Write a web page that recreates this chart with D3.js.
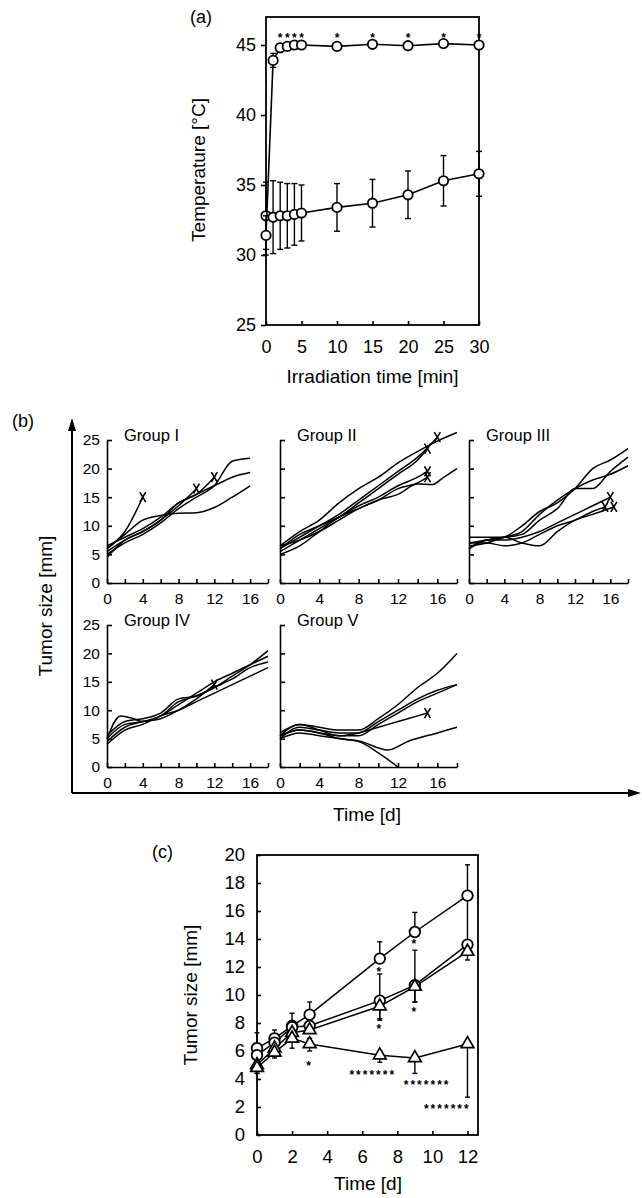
<!DOCTYPE html>
<html>
<head>
<meta charset="utf-8">
<script src="https://cdn.jsdelivr.net/npm/d3@7"></script>
<style>
  body { margin: 0; background: #fff; }
  svg { font-family: "Liberation Sans", Arial, sans-serif; }
  .axis path, .axis line { stroke: #000; stroke-width: 1.6; }
  .axis text { fill: #000; }
</style>
</head>
<body>
<svg id="fig" width="642" height="1198"></svg>
<script>
// ---- (a) temperature during irradiation ----
const irrTime = [0, 1, 2, 3, 4, 5, 10, 15, 20, 25, 30];
const tempHeated = [31.4, 43.9, 44.8, 44.9, 45.0, 45.0, 44.9, 45.05, 44.95, 45.1, 45.0];
const tempHeatedSd = [1.4, 0.5, 0.2, 0.1, 0.1, 0.1, 0.1, 0.1, 0.1, 0.1, 0.1];
const tempControl = [32.8, 32.7, 32.8, 32.8, 32.9, 33.0, 33.4, 33.7, 34.3, 35.3, 35.8];
const tempControlSd = [2.4, 2.6, 2.4, 2.3, 2.2, 2.0, 1.7, 1.7, 1.7, 1.8, 1.6];
const tempStarTimes = [2, 3, 4, 5, 10, 15, 20, 25, 30];
const tempTicks = [25, 30, 35, 40, 45];
const irrTicks = [0, 5, 10, 15, 20, 25, 30];

// ---- (b) individual tumour growth curves, [day, mm]; dead = ends with x ----
const groupI = [
  { pts: [[0, 6], [2, 9], [4, 15]], dead: true },
  { pts: [[0, 5.5], [2, 7.5], [4, 9], [6, 11], [8, 13.5], [10, 16.5]], dead: true },
  { pts: [[0, 6.5], [2, 8], [4, 9.5], [6, 11.5], [8, 14], [10, 15.5], [12, 18.5]], dead: true },
  { pts: [[0, 5], [2, 7], [4, 8.5], [6, 10.5], [8, 13], [10, 15], [12, 17], [14, 21.3], [16, 21.8]], dead: false },
  { pts: [[0, 6], [2, 8.5], [4, 11], [6, 11.8], [8, 12.2], [10, 12.3], [12, 13.2], [14, 15], [16, 17]], dead: false },
  { pts: [[0, 4.5], [2, 7.5], [4, 9], [6, 11], [8, 14], [10, 15.5], [12, 17], [14, 18.5], [16, 19.3]], dead: false }
];
const groupII = [
  { pts: [[0, 6.5], [2, 9], [4, 11], [6, 14], [8, 16.5], [10, 18.5], [12, 21], [14, 23], [16, 24.8], [18, 26.3]], dead: false },
  { pts: [[0, 6], [2, 8], [4, 10], [6, 12], [8, 14.5], [10, 17], [12, 19.5], [14, 22], [16, 25.5]], dead: true },
  { pts: [[0, 5.5], [2, 7.5], [4, 9.5], [6, 11.5], [8, 14], [10, 16.5], [12, 19], [14, 21.5], [15, 23.5]], dead: true },
  { pts: [[0, 6], [2, 8.5], [4, 10], [6, 11.5], [8, 13.5], [10, 15], [12, 17], [14, 18.5], [15, 19.5]], dead: true },
  { pts: [[0, 6.5], [2, 7.5], [4, 9], [6, 11], [8, 13], [10, 14.5], [12, 16.5], [14, 17.5], [15, 18.5]], dead: true },
  { pts: [[0, 5], [2, 6.5], [4, 9], [6, 11.5], [8, 13], [10, 14.5], [12, 15.5], [14, 17.3], [15.5, 17.2], [16.5, 18.3], [18, 20]], dead: false }
];
const groupIII = [
  { pts: [[0, 7], [2, 7.5], [4, 8], [6, 10], [8, 12.5], [10, 14], [12, 16.5], [14, 20], [16, 21.5], [18, 23.5]], dead: false },
  { pts: [[0, 6.5], [2, 7], [4, 8], [6, 9], [8, 12], [10, 14.5], [12, 16.5], [14, 18], [16, 19], [18, 20.5]], dead: false },
  { pts: [[0, 8], [2, 8], [4, 8], [6, 8.5], [8, 11], [10, 13], [12, 16.5], [14, 16.5], [16, 19.5], [18, 22]], dead: false },
  { pts: [[0, 6], [2, 7.5], [4, 7.5], [6, 8], [8, 9], [10, 10.5], [12, 12], [14, 13.5], [16, 15]], dead: true },
  { pts: [[0, 7], [2, 7], [4, 6.5], [6, 7], [8, 8.5], [10, 10], [12, 11], [14, 12.5], [15.4, 13.3]], dead: true },
  { pts: [[0, 6], [2, 7.5], [4, 8], [6, 7], [8, 6.5], [10, 9], [12, 11], [14, 12], [16.4, 13.3]], dead: true }
];
const groupIV = [
  { pts: [[0, 5], [1.5, 9], [3, 8.5], [4, 8], [6, 9], [8, 11.5], [10, 12.5], [12, 14], [14, 16], [16, 18], [18, 20.5]], dead: false },
  { pts: [[0, 4.5], [2, 7], [4, 8], [6, 8.5], [8, 10], [10, 12], [12, 14.5]], dead: true },
  { pts: [[0, 5], [2, 7.5], [4, 8], [6, 9], [8, 11], [10, 13], [12, 15], [14, 16.5], [16, 18], [18, 19.5]], dead: false },
  { pts: [[0, 5.5], [2, 8], [4, 8.5], [6, 9.5], [8, 12], [10, 12.5], [12, 14], [14, 15.5], [16, 17.5], [18, 18.5]], dead: false },
  { pts: [[0, 4], [2, 6.5], [4, 7.5], [6, 9], [8, 10], [10, 11.5], [12, 13], [14, 14.5], [16, 16], [18, 17.5]], dead: false }
];
const groupV = [
  { pts: [[0, 5.5], [2, 7.5], [4, 7], [6, 6.5], [8, 6.5], [10, 8.5], [12, 11], [14, 14], [16, 16.5], [18, 20]], dead: false },
  { pts: [[0, 5], [2, 7], [4, 6.5], [6, 6], [8, 6], [10, 8], [12, 10], [14, 12], [16, 13.5], [18, 14.5]], dead: false },
  { pts: [[0, 6], [2, 7.5], [4, 6.5], [6, 5.5], [8, 5.5], [10, 7.5], [12, 9.5], [14, 11.5], [16, 13], [18, 14.5]], dead: false },
  { pts: [[0, 5.5], [2, 6.5], [4, 6], [6, 5.5], [8, 6], [10, 7], [12, 8], [14, 9], [15, 9.5]], dead: true },
  { pts: [[0, 5], [2, 6], [4, 5.5], [6, 5], [8, 4.6], [11, 3], [13, 4.5], [16, 6], [18, 7]], dead: false },
  { pts: [[0, 5.5], [2, 6.5], [4, 6], [6, 5], [8, 4.5], [10, 2.5], [12, 0]], dead: false }
];
const sizeTicksB = [0, 5, 10, 15, 20, 25];
const dayTicksB = [0, 2, 4, 6, 8, 10, 12, 14, 16, 18];

// ---- (c) mean tumour size ----
const daysC = [0, 1, 2, 3, 7, 9, 12];
const meanS1 = [6.2, 6.9, 7.8, 8.6, 12.6, 14.5, 17.1];
const meanS2 = [5.7, 6.6, 7.7, 7.8, 9.6, 10.7, 13.6];
const meanS3 = [5.0, 6.2, 7.3, 7.5, 9.2, 10.6, 13.1];
const meanS4 = [4.8, 5.9, 6.9, 6.5, 5.7, 5.5, 6.5];
const upS1 = [1.1, 0.6, 0.9, 0.9, 1.2, 1.4, 2.2];
const upS2 = [0, 0, 0, 0, 1.9, 2.5, 3.4];
const downS2 = [0, 0, 0, 0, 1.3, 1.2, 0];
const downS3 = [0.6, 0.5, 0.5, 0, 1.0, 1.1, 0.6];
const upS4 = [0, 0.4, 0.2, 0.4, 0.3, 0, 0];
const downS4 = [0.4, 0.4, 0.7, 0.5, 0.5, 1.1, 3.8];
const starsC = [[3, 5.1, "*"], [7, 11.8, "*"], [7, 7.7, "*"], [9, 13.8, "*"], [9, 8.9, "*"],
                [6.6, 4.4, "*******"], [9.7, 3.7, "*******"], [10.85, 2.0, "*******"]];
const sizeTicksC = [0, 2, 4, 6, 8, 10, 12, 14, 16, 18, 20];
const dayTicksC = [0, 2, 4, 6, 8, 10, 12];

const svg = d3.select("#fig");

function label(g, x, y, s, size, anchor, rot) {
  const t = g.append("text").attr("font-size", size).attr("text-anchor", anchor || "start").text(s);
  if (rot) t.attr("transform", `translate(${x},${y}) rotate(${rot})`);
  else t.attr("x", x).attr("y", y);
  return t;
}

function errBar(g, x, yTop, yBot, cap) {
  g.append("line").attr("x1", x).attr("x2", x).attr("y1", yTop).attr("y2", yBot)
    .attr("stroke", "#000").attr("stroke-width", 1.4);
  [yTop, yBot].forEach(y => {
    g.append("line").attr("x1", x - cap).attr("x2", x + cap).attr("y1", y).attr("y2", y)
      .attr("stroke", "#000").attr("stroke-width", 1.4);
  });
}

/* ---------------- panel (a) ---------------- */
const ga = svg.append("g");
const ax = d3.scaleLinear().domain([0, 30]).range([266, 479]);
const ay = d3.scaleLinear().domain([25, 47]).range([325, 17]);

ga.append("rect")
  .attr("x", ax(0)).attr("y", ay(47))
  .attr("width", ax(30) - ax(0)).attr("height", ay(25) - ay(47))
  .attr("fill", "none").attr("stroke", "#000").attr("stroke-width", 1.8);

ga.append("g").attr("class", "axis")
  .attr("transform", `translate(${ax(0)},0)`)
  .call(d3.axisLeft(ay).tickValues(tempTicks).tickSize(5).tickPadding(5))
  .call(g => g.select(".domain").remove())
  .selectAll("text").attr("font-size", 18).attr("font-family", null);

ga.append("g").attr("class", "axis")
  .attr("transform", `translate(0,${ay(25)})`)
  .call(d3.axisBottom(ax).tickValues(irrTicks).tickSizeInner(-4).tickSizeOuter(0).tickPadding(15))
  .call(g => g.select(".domain").remove())
  .selectAll("text").attr("font-size", 18).attr("font-family", null);

const lineA = d3.line().x(d => ax(d[0])).y(d => ay(d[1]));
[[tempControl, tempControlSd], [tempHeated, tempHeatedSd]].forEach(([vals, sd]) => {
  irrTime.forEach((t, i) => errBar(ga, ax(t), ay(vals[i] + sd[i]), ay(vals[i] - sd[i]), 3));
  ga.append("path").datum(irrTime.map((t, i) => [t, vals[i]]))
    .attr("d", lineA).attr("fill", "none").attr("stroke", "#000").attr("stroke-width", 1.6);
  ga.selectAll(null).data(irrTime.map((t, i) => [t, vals[i]])).join("circle")
    .attr("cx", d => ax(d[0])).attr("cy", d => ay(d[1])).attr("r", 4.7)
    .attr("fill", "#fff").attr("stroke", "#000").attr("stroke-width", 1.8);
});
ga.selectAll(null).data(tempStarTimes).join("text")
  .attr("x", d => ax(d)).attr("y", ay(45.75) + 7).attr("text-anchor", "middle")
  .attr("font-size", 12).attr("font-weight", "bold").text("*");

label(ga, 190, 23, "(a)", 18);
label(ga, ax(15), 383, "Irradiation time [min]", 19, "middle");
label(ga, 205, 170, "Temperature [°C]", 19, "middle", -90);

/* ---------------- panel (b) ---------------- */
const gb = svg.append("g");
const panels = [
  { name: "Group I", data: groupI, x0: 107, x1: 268, y0: 583, y1: 440, yLab: true },
  { name: "Group II", data: groupII, x0: 280, x1: 457, y0: 583, y1: 440, yLab: false },
  { name: "Group III", data: groupIII, x0: 469, x1: 628, y0: 583, y1: 440, yLab: false },
  { name: "Group IV", data: groupIV, x0: 107, x1: 268, y0: 767, y1: 625, yLab: true },
  { name: "Group V", data: groupV, x0: 280, x1: 457, y0: 767, y1: 625, yLab: false }
];

panels.forEach(p => {
  const g = gb.append("g");
  const x = d3.scaleLinear().domain([0, 18]).range([p.x0, p.x1]);
  const y = d3.scaleLinear().domain([0, 25]).range([p.y0, p.y1]);

  g.append("g").attr("class", "axis")
    .attr("transform", `translate(${x(0)},0)`)
    .call(d3.axisLeft(y).tickValues(sizeTicksB).tickSizeInner(-5).tickSizeOuter(0).tickPadding(7)
      .tickFormat(d => p.yLab ? d : ""))
    .selectAll("text").attr("font-size", 15.5).attr("font-family", null);

  g.append("g").attr("class", "axis")
    .attr("transform", `translate(0,${y(0)})`)
    .call(d3.axisBottom(x).tickValues(dayTicksB).tickSizeInner(-4).tickSizeOuter(0).tickPadding(10)
      .tickFormat(d => d % 4 === 0 ? d : ""))
    .selectAll("text").attr("font-size", 15.5).attr("font-family", null);

  const line = d3.line().x(d => x(d[0])).y(d => y(d[1])).curve(d3.curveMonotoneX);
  p.data.forEach(m => {
    g.append("path").attr("d", line(m.pts)).attr("fill", "none")
      .attr("stroke", "#000").attr("stroke-width", 1.5);
    if (m.dead) {
      const e = m.pts[m.pts.length - 1];
      const ex = x(e[0]), ey = y(e[1]);
      g.append("path")
        .attr("d", `M${ex - 3},${ey - 5}L${ex + 3},${ey + 5}M${ex + 3},${ey - 5}L${ex - 3},${ey + 5}`)
        .attr("stroke", "#000").attr("stroke-width", 1.6);
    }
  });

  label(g, x(0) + 17, y(25) + 1, p.name, 16.5);
});

// outer arrows of panel (b)
gb.append("line").attr("x1", 72).attr("x2", 72).attr("y1", 793).attr("y2", 428)
  .attr("stroke", "#000").attr("stroke-width", 2);
gb.append("path").attr("d", "M72,418L68,431L76,431Z").attr("fill", "#000");
gb.append("line").attr("x1", 72).attr("x2", 630).attr("y1", 793).attr("y2", 793)
  .attr("stroke", "#000").attr("stroke-width", 2);
gb.append("path").attr("d", "M641,793L628,789L628,797Z").attr("fill", "#000");

label(gb, 12, 427, "(b)", 18);
label(gb, 367, 821, "Time [d]", 19, "middle");
label(gb, 52, 606, "Tumor size [mm]", 19, "middle", -90);

/* ---------------- panel (c) ---------------- */
const gc = svg.append("g");
const cx = d3.scaleLinear().domain([0, 12.6]).range([257, 478]);
const cy = d3.scaleLinear().domain([0, 20]).range([1135, 855]);

gc.append("rect")
  .attr("x", cx(0)).attr("y", cy(20))
  .attr("width", cx(12.6) - cx(0)).attr("height", cy(0) - cy(20))
  .attr("fill", "none").attr("stroke", "#000").attr("stroke-width", 1.8);

gc.append("g").attr("class", "axis")
  .attr("transform", `translate(${cx(0)},0)`)
  .call(d3.axisLeft(cy).tickValues(sizeTicksC).tickSizeInner(-4).tickSizeOuter(0).tickPadding(12))
  .call(g => g.select(".domain").remove())
  .selectAll("text").attr("font-size", 18.5).attr("font-family", null);

gc.append("g").attr("class", "axis")
  .attr("transform", `translate(0,${cy(0)})`)
  .call(d3.axisBottom(cx).tickValues(dayTicksC).tickSizeInner(-4).tickSizeOuter(0).tickPadding(15))
  .call(g => g.select(".domain").remove())
  .selectAll("text").attr("font-size", 18.5).attr("font-family", null);

const seriesC = [
  { vals: meanS1, up: upS1, down: null, shape: "circle" },
  { vals: meanS2, up: upS2, down: downS2, shape: "circle" },
  { vals: meanS3, up: null, down: downS3, shape: "triangle" },
  { vals: meanS4, up: upS4, down: downS4, shape: "triangle" }
];
const lineC = d3.line().x(d => cx(d[0])).y(d => cy(d[1]));
seriesC.forEach(s => {
  daysC.forEach((d, i) => {
    const u = s.up ? s.up[i] : 0, dn = s.down ? s.down[i] : 0;
    if (u > 0) errBar(gc, cx(d), cy(s.vals[i] + u), cy(s.vals[i]), 2.5);
    if (dn > 0) errBar(gc, cx(d), cy(s.vals[i]), cy(s.vals[i] - dn), 2.5);
  });
  gc.append("path").datum(daysC.map((d, i) => [d, s.vals[i]]))
    .attr("d", lineC).attr("fill", "none").attr("stroke", "#000").attr("stroke-width", 1.5);
});
seriesC.forEach(s => {
  const pts = daysC.map((d, i) => [d, s.vals[i]]);
  if (s.shape === "circle") {
    gc.selectAll(null).data(pts).join("circle")
      .attr("cx", d => cx(d[0])).attr("cy", d => cy(d[1])).attr("r", 5.3)
      .attr("fill", "#fff").attr("stroke", "#000").attr("stroke-width", 1.8);
  } else {
    gc.selectAll(null).data(pts).join("path")
      .attr("d", d3.symbol(d3.symbolTriangle, 70))
      .attr("transform", d => `translate(${cx(d[0])},${cy(d[1])})`)
      .attr("fill", "#fff").attr("stroke", "#000").attr("stroke-width", 1.7);
  }
});
gc.selectAll(null).data(starsC).join("text")
  .attr("x", d => cx(d[0])).attr("y", d => cy(d[1]) + 6).attr("text-anchor", "middle")
  .attr("font-size", 12).attr("font-weight", "bold").attr("letter-spacing", 2)
  .text(d => d[2]);

label(gc, 152, 858, "(c)", 18);
label(gc, 368, 1190, "Time [d]", 19, "middle");
label(gc, 197, 995, "Tumor size [mm]", 19, "middle", -90);
</script>
</body>
</html>
